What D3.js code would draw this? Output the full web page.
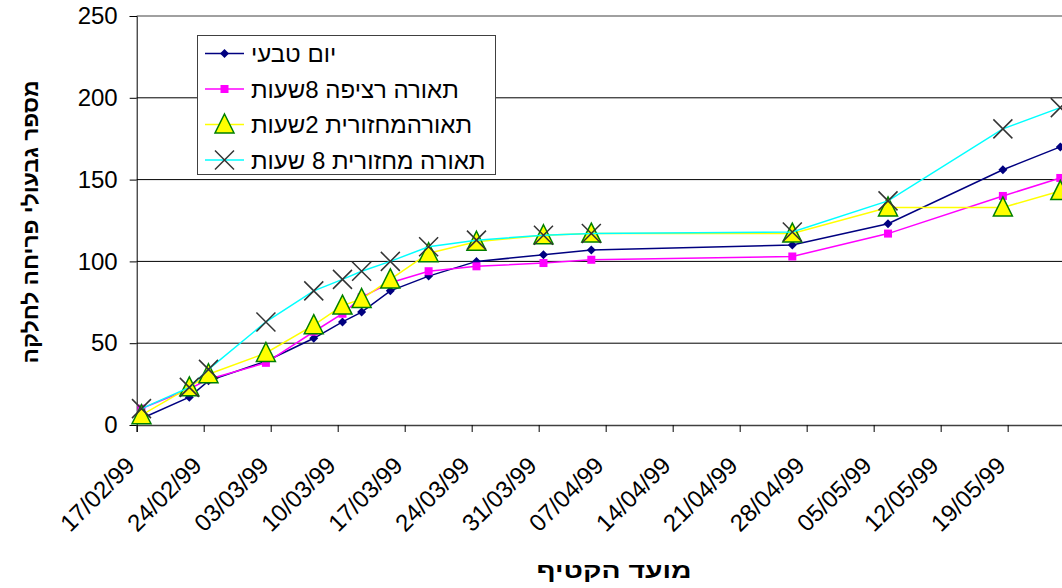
<!DOCTYPE html>
<html>
<head>
<meta charset="utf-8">
<script src="https://cdn.jsdelivr.net/npm/d3@7"></script>
<style>
  body { margin: 0; background: #fff; }
  text { font-family: "Liberation Sans", Arial, sans-serif; }
</style>
</head>
<body>
<div id="chart"></div>
<script>
// harvest dates and flowering stems per plot
const dates = ["17/02/99", "22/02/99", "24/02/99", "02/03/99", "07/03/99", "10/03/99", "12/03/99", "15/03/99",
    "19/03/99", "24/03/99", "31/03/99", "05/04/99", "26/04/99", "06/05/99", "18/05/99", "24/05/99"];
const naturalDay = [4, 17, 27, 39, 53, 63, 69, 82, 91, 100, 104, 107, 110, 123, 156, 170];
const continuous8h = [10, 22, 28, 38, 57, 68, 78, 87, 94, 97, 99, 101, 103, 117, 140, 151];
const cyclic2h = [6, 23, 31, 44, 61, 73, 77, 89, 105, 112, 116, 117, 117, 133, 133, 143];
const cyclic8h = [10, 23, 34, 63, 82, 89, 94, 100, 109, 113, 116, 117, 118, 137, 181, 194];
const seriesNames = ["יום טבעי", "תאורה רציפה 8שעות", "תאורהמחזורית 2שעות", "תאורה מחזורית 8 שעות"];
const xTickLabels = ["17/02/99", "24/02/99", "03/03/99", "10/03/99", "17/03/99", "24/03/99", "31/03/99",
    "07/04/99", "14/04/99", "21/04/99", "28/04/99", "05/05/99", "12/05/99", "19/05/99"];
const yTicks = [0, 50, 100, 150, 200, 250];

const parse = d3.timeParse("%d/%m/%y");
const width = 1062, height = 588;
const plotLeft = 136.7, plotTop = 16, plotBottom = 425;

const svg = d3.select("#chart").append("svg")
    .attr("width", width)
    .attr("height", height);

const x = d3.scaleTime()
    .domain([parse("17/02/99"), parse("25/05/99")])
    .range([plotLeft, plotLeft + 97 * 9.571]);
const y = d3.scaleLinear()
    .domain([0, 250])
    .range([plotBottom, plotTop]);

// points sit in the middle of their day
const px = d => x(d3.timeHour.offset(parse(d), 12));

// grid
svg.append("g")
    .selectAll("line")
    .data(yTicks.filter(v => v > 0 && v < 250))
    .join("line")
    .attr("x1", plotLeft).attr("x2", width)
    .attr("y1", d => y(d)).attr("y2", d => y(d))
    .attr("stroke", "#000").attr("stroke-width", 1);
svg.append("line")
    .attr("x1", plotLeft).attr("x2", width)
    .attr("y1", y(250)).attr("y2", y(250))
    .attr("stroke", "#808080").attr("stroke-width", 1.5);

// axes
svg.append("g")
    .attr("transform", `translate(${plotLeft},0)`)
    .call(d3.axisLeft(y).tickValues(yTicks).tickSize(7).tickPadding(12))
    .call(g => g.selectAll("text").attr("font-size", "24px").attr("fill", "#000")
        .attr("font-family", "Liberation Sans, Arial, sans-serif"))
    .call(g => g.selectAll("line, path").attr("stroke", "#000"));

const xg = svg.append("g")
    .attr("transform", `translate(0,${plotBottom})`)
    .call(d3.axisBottom(x).tickValues(xTickLabels.map(parse)).tickSize(7)
        .tickFormat(d3.timeFormat("%d/%m/%y")))
    .call(g => g.select(".domain").attr("stroke", "#404040").attr("stroke-width", 1.5));
xg.selectAll("line").attr("stroke", "#000");
xg.selectAll("text")
    .attr("font-size", "24px")
    .attr("font-family", "Liberation Sans, Arial, sans-serif")
    .attr("fill", "#000")
    .attr("text-anchor", "end")
    .attr("dy", null)
    .attr("y", null)
    .attr("transform", "translate(-1,42) rotate(-45)");

// series
const series = [
    {name: seriesNames[0], values: naturalDay, color: "#000080", marker: "diamond"},
    {name: seriesNames[1], values: continuous8h, color: "#ff00ff", marker: "square"},
    {name: seriesNames[2], values: cyclic2h, color: "#ffff00", marker: "triangle"},
    {name: seriesNames[3], values: cyclic8h, color: "#00ffff", marker: "cross"}
];

function drawMarker(g, type) {
    if (type === "diamond") {
        g.append("path").attr("d", "M0,-4.5L4.5,0L0,4.5L-4.5,0Z").attr("fill", "#000080");
    } else if (type === "square") {
        g.append("rect").attr("x", -4).attr("y", -4).attr("width", 8).attr("height", 8).attr("fill", "#ff00ff");
    } else if (type === "triangle") {
        g.append("path").attr("d", "M0,-10.5L9.5,8.5L-9.5,8.5Z")
            .attr("fill", "#ffff00").attr("stroke", "#008000").attr("stroke-width", 1.5);
    } else {
        g.append("path").attr("d", "M-9.5,-9.5L9.5,9.5M-9.5,9.5L9.5,-9.5")
            .attr("stroke", "#333").attr("stroke-width", 1.5);
    }
}

const line = d3.line()
    .x((d, i) => px(dates[i]))
    .y(d => y(d));

series.forEach(s => {
    svg.append("path")
        .datum(s.values)
        .attr("fill", "none")
        .attr("stroke", s.color)
        .attr("stroke-width", 1.5)
        .attr("d", line);
    svg.append("g")
        .selectAll("g")
        .data(s.values)
        .join("g")
        .attr("transform", (d, i) => `translate(${px(dates[i])},${y(d)})`)
        .each(function () { drawMarker(d3.select(this), s.marker); });
});

// legend
const legend = svg.append("g");
legend.append("rect")
    .attr("x", 197.5).attr("y", 35.5)
    .attr("width", 298).attr("height", 139)
    .attr("fill", "#fff").attr("stroke", "#404040").attr("stroke-width", 1);
series.forEach((s, i) => {
    const ly = 53.5 + i * 35.5;
    const row = legend.append("g");
    row.append("line")
        .attr("x1", 205).attr("x2", 244)
        .attr("y1", ly).attr("y2", ly)
        .attr("stroke", s.color).attr("stroke-width", 1.5);
    drawMarker(row.append("g").attr("transform", `translate(224.5,${ly})`), s.marker);
    row.append("text")
        .attr("x", 251).attr("y", ly)
        .attr("dy", "0.36em")
        .attr("direction", "rtl")
        .attr("text-anchor", "end")
        .attr("font-size", "24px")
        .text(s.name);
});

// axis titles
svg.append("text")
    .attr("transform", "translate(30,222) rotate(-90)")
    .attr("text-anchor", "middle")
    .attr("dy", "0.35em")
    .attr("font-size", "22px")
    .attr("font-weight", "bold")
    .attr("direction", "rtl")
    .attr("textLength", 283)
    .attr("lengthAdjust", "spacingAndGlyphs")
    .text("מספר גבעולי פריחה לחלקה");
svg.append("text")
    .attr("x", 614).attr("y", 578)
    .attr("text-anchor", "middle")
    .attr("font-size", "22px")
    .attr("font-weight", "bold")
    .attr("direction", "rtl")
    .attr("textLength", 155)
    .attr("lengthAdjust", "spacingAndGlyphs")
    .text("מועד הקטיף");
</script>
</body>
</html>
